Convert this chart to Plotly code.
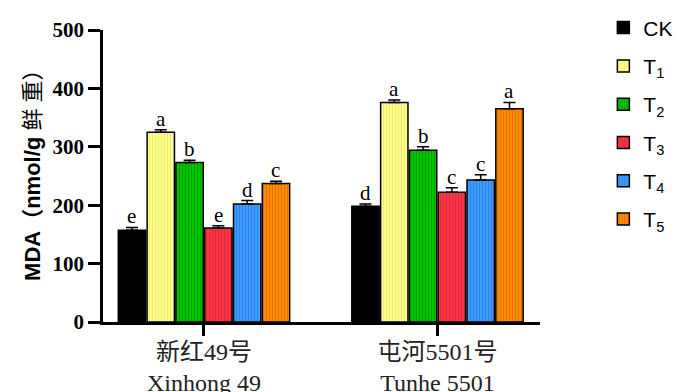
import plotly.graph_objects as go

categories = ["新红49号<br>Xinhong 49", "屯河5501号<br>Tunhe 5501"]
series_names = ["CK", "T<sub>1</sub>", "T<sub>2</sub>", "T<sub>3</sub>", "T<sub>4</sub>", "T<sub>5</sub>"]
values = [
    [157, 198],
    [325, 376],
    [273, 294],
    [161, 222],
    [202, 243],
    [237, 365],
]
errors = [
    [5, 4],
    [4, 4],
    [4, 6],
    [4, 8],
    [6, 9],
    [4, 11],
]
letters = [
    ["e", "d"],
    ["a", "a"],
    ["b", "b"],
    ["e", "c"],
    ["d", "c"],
    ["c", "a"],
]
y_ticks = [0, 100, 200, 300, 400, 500]
y_ticktext = ["<b>%d</b>" % v for v in y_ticks]
y_title = "<b>MDA（nmol/g</b> 鲜 重）"

fills = ["#000000", "#FFFF88", "#00C400", "#FF3346", "#3C9BFF", "#FF8A00"]
hatch = ["#000000", "#D8D870", "#007A00", "#B8202E", "#2468C8", "#C05E00"]

BARGAP = 0.26
BARGROUPGAP = 0.05

fig = go.Figure()
xpos = list(range(len(categories)))
n = len(series_names)
for i, name in enumerate(series_names):
    pattern = dict(shape="" if i == 0 else "|", fgcolor=hatch[i], size=3, solidity=0.3)
    fig.add_trace(go.Bar(
        x=xpos, y=values[i], name=name,
        marker=dict(color=fills[i], line=dict(color="black", width=1.5), pattern=pattern),
        error_y=dict(type="data", symmetric=False, array=errors[i], arrayminus=[0] * len(xpos),
                     color="black", thickness=1.5, width=6),
        legendgroup=f"g{i}",
    ))

gw = 1 - BARGAP
slot = gw / n
for i in range(n):
    for j, c in enumerate(xpos):
        xc = c - gw / 2 + (i + 0.5) * slot
        fig.add_annotation(x=xc, y=values[i][j] + errors[i][j], xref="x", yref="y",
                           text=letters[i][j], showarrow=False, yanchor="bottom", yshift=-3,
                           font=dict(family="Times New Roman, Liberation Serif, serif", size=21, color="black"))

# y-axis title as a rotated annotation so it can be centred exactly
fig.add_annotation(x=-0.163, y=0.52, xref="paper", yref="paper", text=y_title,
                   textangle=-90, showarrow=False, xanchor="center", yanchor="middle",
                   font=dict(family="Liberation Sans, Arial, Noto Sans CJK SC", size=22, color="black"))

# page body has an 8px margin, so the figure is sized/offset to land at the window pixels
fig.update_layout(
    width=692, height=384,
    margin=dict(l=95, r=160, t=22, b=70, autoexpand=False),
    paper_bgcolor="white", plot_bgcolor="white",
    barmode="group", bargap=BARGAP, bargroupgap=BARGROUPGAP,
    showlegend=True,
    legend=dict(x=1.145, xref="paper", y=0.68, yref="paper", xanchor="left", yanchor="middle",
                font=dict(family="Liberation Sans, Arial", size=21, color="black"),
                traceorder="grouped", tracegroupgap=8, itemwidth=30,
                bgcolor="rgba(0,0,0,0)"),
    xaxis=dict(tickvals=xpos, ticktext=categories, range=[-0.4325, 1.439],
               showline=True, linecolor="black", linewidth=2.5,
               ticks="outside", ticklen=11, tickwidth=2.5, tickcolor="black",
               ticklabelstandoff=-5,
               tickfont=dict(family="Times New Roman, Liberation Serif, Noto Sans CJK SC", size=24, color="#222"),
               showgrid=False, zeroline=False, automargin=False),
    yaxis=dict(range=[0, 500], tickvals=y_ticks, ticktext=y_ticktext,
               showline=True, linecolor="black", linewidth=2.5,
               ticks="outside", ticklen=12, tickwidth=2.5, tickcolor="black",
               tickfont=dict(family="Times New Roman, Liberation Serif, serif", size=21, color="black"),
               showgrid=False, zeroline=False, automargin=False),
)

fig.write_html("out.html")
